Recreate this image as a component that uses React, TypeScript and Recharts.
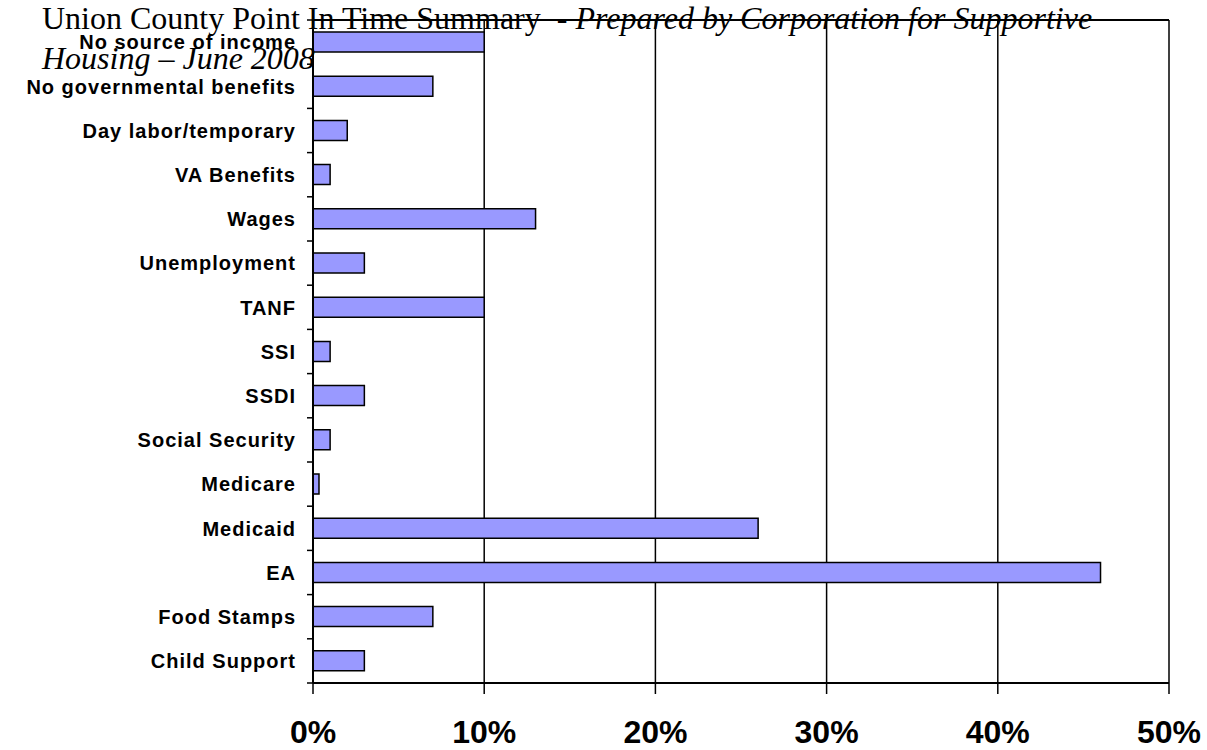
import React from 'react';
import { BarChart, Bar, XAxis, YAxis, CartesianGrid } from 'recharts';

// top to bottom, as in the chart
const categories = [
  'No source of income',
  'No governmental benefits',
  'Day labor/temporary',
  'VA Benefits',
  'Wages',
  'Unemployment',
  'TANF',
  'SSI',
  'SSDI',
  'Social Security',
  'Medicare',
  'Medicaid',
  'EA',
  'Food Stamps',
  'Child Support',
];
const shares = [0.1, 0.07, 0.02, 0.01, 0.13, 0.03, 0.1, 0.01, 0.03, 0.01, 0.0035, 0.26, 0.46, 0.07, 0.03];
const xTicks = [0, 0.1, 0.2, 0.3, 0.4, 0.5];

const titleMain = 'Union County Point In Time Summary  - ';
const titleItalic1 = 'Prepared by Corporation for Supportive';
const titleItalic2 = 'Housing \u2013 June 2008';

const data = categories.map((name, i) => ({ name, share: shares[i] }));

const W = 1207;
const H = 750;
const TOP = 20;
const BOTTOM = 67;
const LEFT = 313;
const BAND = (H - TOP - BOTTOM) / categories.length;
const LABEL_GAP = 18;

const labelFont = 'Arial, "Liberation Sans", sans-serif';

function CategoryTick(props: any) {
  const { x, y, payload, index } = props;
  const ax = x + LABEL_GAP;
  return (
    <g>
      {index === 0 && (
        <line x1={ax - 6} x2={ax} y1={y - BAND / 2} y2={y - BAND / 2} stroke="#000" strokeWidth={1.5} />
      )}
      <line x1={ax - 6} x2={ax} y1={y + BAND / 2} y2={y + BAND / 2} stroke="#000" strokeWidth={1.5} />
      <text
        x={x + 1}
        y={y}
        dy="0.36em"
        textAnchor="end"
        fontFamily={labelFont}
        fontWeight="bold"
        fontSize={20}
        letterSpacing={1}
        fill="#000"
      >
        {payload.value}
      </text>
    </g>
  );
}

function PercentTick(props: any) {
  const { x, y, payload } = props;
  return (
    <text
      x={x}
      y={y}
      dy={47}
      textAnchor="middle"
      fontFamily='"Liberation Sans Narrow", "Arial Narrow", Arial, sans-serif'
      fontWeight="bold"
      fontSize={32}
      fill="#000"
    >
      {Math.round(payload.value * 100) + '%'}
    </text>
  );
}

export default function App() {
  return (
    <div style={{ position: 'absolute', left: 0, top: 0, width: W, height: H, background: '#fff' }}>
      <BarChart
        width={W}
        height={H}
        data={data}
        layout="vertical"
        margin={{ top: TOP - 1, right: W - 1169, bottom: 0, left: 0 }}
        barSize={20}
      >
        <CartesianGrid xAxisId="bottom" horizontal={false} vertical stroke="#000" strokeWidth={1.5} />
        <XAxis
          xAxisId="bottom"
          type="number"
          domain={[0, 0.5]}
          ticks={xTicks}
          height={BOTTOM}
          axisLine={{ stroke: '#000', strokeWidth: 2 }}
          tickLine={{ stroke: '#000', strokeWidth: 1.5 }}
          tickSize={11}
          tickMargin={2}
          tick={<PercentTick />}
          interval={0}
        />
        <XAxis
          xAxisId="top"
          orientation="top"
          type="number"
          domain={[0, 0.5]}
          height={1}
          tick={false}
          tickLine={false}
          axisLine={{ stroke: '#000', strokeWidth: 2 }}
        />
        <YAxis
          type="category"
          dataKey="name"
          width={LEFT}
          axisLine={{ stroke: '#000', strokeWidth: 2 }}
          tickLine={false}
          tickSize={0}
          tickMargin={LABEL_GAP}
          tick={<CategoryTick />}
          interval={0}
        />
        <Bar
          xAxisId="bottom"
          dataKey="share"
          fill="#9999FF"
          stroke="#000"
          strokeWidth={1.5}
          isAnimationActive={false}
        />
      </BarChart>
      <svg
        width={W}
        height={H}
        style={{ position: 'absolute', left: 0, top: 0, pointerEvents: 'none' }}
      >
        <g fontFamily='"Liberation Serif", "Times New Roman", serif' fontSize={32} fill="#000">
          <text x={42} y={29} xmlSpace="preserve">
            {titleMain}
            <tspan fontStyle="italic">{titleItalic1}</tspan>
          </text>
          <text x={42} y={69} fontStyle="italic">
            {titleItalic2}
          </text>
        </g>
      </svg>
    </div>
  );
}
